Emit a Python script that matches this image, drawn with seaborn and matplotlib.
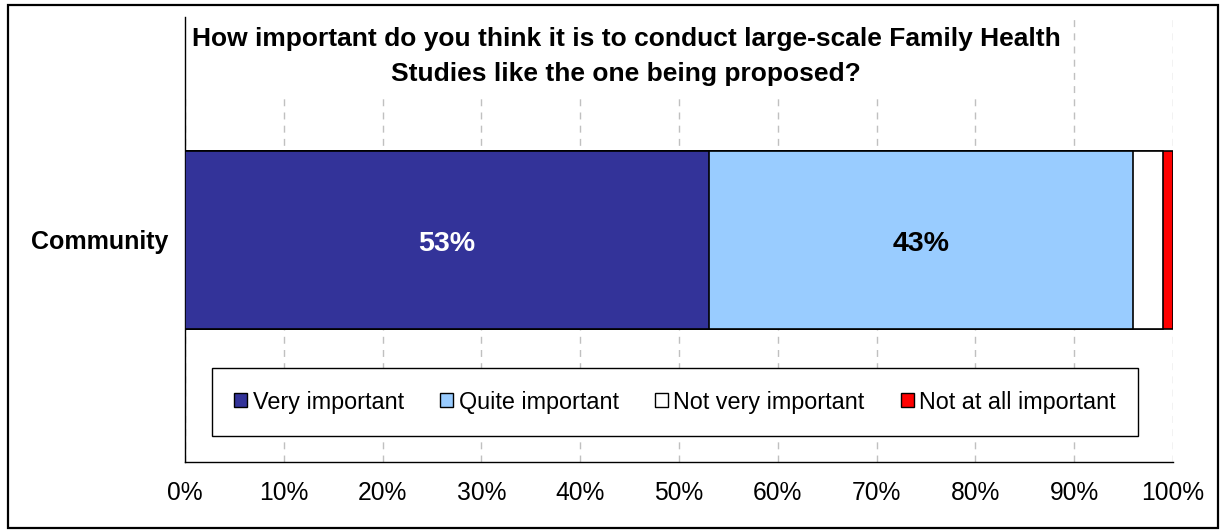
import matplotlib
matplotlib.use("Agg")
import matplotlib.pyplot as plt
from matplotlib.patches import Rectangle
import numpy as np
import pandas as pd
import seaborn as sns

# Survey responses (percent of respondents)
group = ["Community"]
series = ["Very important", "Quite important", "Not very important", "Not at all important"]
shares = [53, 43, 3, 1]
colors = ["#333399", "#99CCFF", "#FFFFFF", "#FF0000"]
label_colors = ["white", "black", None, None]
x_ticks = [0, 10, 20, 30, 40, 50, 60, 70, 80, 90, 100]
title_lines = ["How important do you think it is to conduct large-scale Family Health",
               "Studies like the one being proposed?"]

sns.set_style("white")
plt.rcParams["font.family"] = ["Liberation Sans", "DejaVu Sans"]
plt.rcParams["text.color"] = "black"
plt.rcParams["xtick.color"] = "black"
plt.rcParams["ytick.color"] = "black"
plt.rcParams["axes.labelcolor"] = "black"

fig = plt.figure(figsize=(12.23, 5.31), dpi=100)
ax = fig.add_axes([185 / 1223, 69 / 531, 988 / 1223, 445 / 531])

# Stacked segments: draw cumulative totals longest first so each shorter bar sits on top
ends = np.cumsum(shares)
starts = ends - np.array(shares)
for i in range(len(series) - 1, -1, -1):
    df = pd.DataFrame({"group": group, "value": [ends[i]]})
    sns.barplot(data=df, x="value", y="group", orient="h", color=colors[i],
                saturation=1, width=0.4, edgecolor="black", linewidth=1.2,
                ax=ax, zorder=3)

for i, s in enumerate(shares):
    if label_colors[i] is None:
        continue
    ax.text(starts[i] + s / 2, 0.01, f"{s}%", ha="center", va="center",
            fontsize=20.5, fontweight="bold", color=label_colors[i], zorder=5)

ax.set_xlim(0, 100)
ax.set_ylim(0.5, -0.5)
ax.set_xlabel("")
ax.set_ylabel("")
ax.set_xticks(x_ticks)
ax.set_xticklabels([f"{t}%" for t in x_ticks], fontsize=17.7)
ax.set_yticks([0])
ax.set_yticklabels(group, fontsize=18, fontweight="bold")
ax.set_yticks([-0.5, 0.5], minor=True)
ax.tick_params(axis="y", which="major", length=0, pad=12)
ax.tick_params(axis="y", which="minor", length=4, width=1, direction="out", color="black")
ax.tick_params(axis="x", length=5, width=1, direction="out", color="black", pad=9)

for side in ["top", "right"]:
    ax.spines[side].set_visible(False)
for side in ["left", "bottom"]:
    ax.spines[side].set_color("black")
    ax.spines[side].set_linewidth(1)

ax.set_axisbelow(True)
ax.grid(axis="x", color="#c0c0c0", linewidth=1, linestyle=(0, (5, 4.5)), zorder=0)
ax.grid(axis="y", visible=False)

# Title panel inside the plot area
ax.add_patch(Rectangle((0, 0.82), 0.89, 0.18, transform=ax.transAxes,
                       facecolor="white", edgecolor="none", zorder=1))
title_x = (626 - 185) / 988
ax.text(title_x, (462 - 39) / 445, title_lines[0], transform=ax.transAxes,
        ha="center", va="center", fontsize=19, fontweight="bold", zorder=6)
ax.text(title_x, (462 - 74) / 445, title_lines[1], transform=ax.transAxes,
        ha="center", va="center", fontsize=19, fontweight="bold", zorder=6)

handles = [Rectangle((0, 0), 1, 1, facecolor=c, edgecolor="black", linewidth=1) for c in colors]
leg = ax.legend(handles, series, loc="center", bbox_to_anchor=((675 - 185) / 988, (462 - 402) / 445),
                ncol=4, fontsize=16.8, frameon=True, fancybox=False, shadow=False,
                handlelength=0.55, handleheight=0.55, handletextpad=0.25,
                columnspacing=1.55, borderpad=0.95, framealpha=1)
leg.get_frame().set_edgecolor("black")
leg.get_frame().set_linewidth(1)
leg.set_zorder(6)

# Outer chart frame
fig.patches.append(Rectangle((8 / 1223, 3 / 531), 1210 / 1223, 523 / 531,
                             transform=fig.transFigure, fill=False,
                             edgecolor="black", linewidth=1.6))

fig.savefig("out.png", dpi=100)
